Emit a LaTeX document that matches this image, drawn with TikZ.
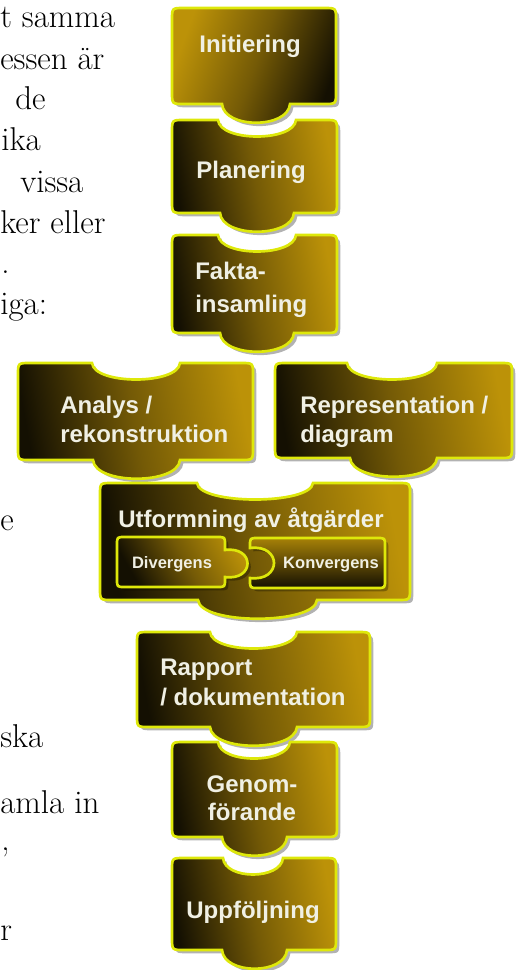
\documentclass[tikz,border=0pt]{standalone}
\usepackage{fontspec}
\newfontfamily\blocksans{Liberation Sans}
\usetikzlibrary{shadows}

% one puzzle piece: style, left, top, right, bottom, notch from/to (top), tab from/to (bottom)
\newcommand{\piece}[9]{%
  \ifnum#6=#7\relax\def\notchpart{}\else
  \def\notchpart{-- (#7,#3) .. controls (#7-2,#3+22) and (#6+2,#3+22) .. (#6,#3)}\fi
  \path[piece,#1] (#2,#3+12) -- (#2,#5-12) .. controls (#2,#5) .. (#2+12,#5)
    -- (#8,#5) .. controls (#8+2,#5+25) and (#9-2,#5+25) .. (#9,#5)
    -- (#4-12,#5) .. controls (#4,#5) .. (#4,#5-12)
    -- (#4,#3+12) .. controls (#4,#3) .. (#4-12,#3) \notchpart
    -- (#2+12,#3) .. controls (#2,#3) .. (#2,#3+12) -- cycle;}

\begin{document}
\begin{tikzpicture}[x=0.75pt, y=-0.75pt,
    piece/.style={draw=pzrim, line width=2pt,
      drop shadow={shadow xshift=2.5pt, shadow yshift=-2.5pt, opacity=0.3, fill=black}},
    darkleft/.style={left color=pzdark, right color=pzgold, middle color=pzolive, shading angle=100},
    goldleft/.style={left color=pzgold, right color=pzdark, middle color=pzolive, shading angle=70},
    blocktext/.style={text=pztext, inner sep=0pt, font=\blocksans\bfseries\fontsize{18}{22}\selectfont},
    smalltext/.style={blocktext, font=\blocksans\bfseries\fontsize{12.4}{15}\selectfont},
    pagetext/.style={anchor=base west, inner sep=0pt, font=\fontsize{24.75}{30}\selectfont}]
        \definecolor{pzgold}{RGB}{188,146,8}
        \definecolor{pzolive}{RGB}{116,90,6}
        \definecolor{pzdark}{RGB}{20,16,2}
        \definecolor{pzrim}{RGB}{222,232,10}
        \definecolor{pztext}{RGB}{240,240,228}

        \useasboundingbox (0,0) rectangle (520,970);
        \clip (0,0) rectangle (520,970);

        % Page text cut off at the left edge
        \node[pagetext] (pg1) at (0,28) {t samma};
        \node[pagetext] (pg2) at (0,70) {essen är};
        \node[pagetext] (pg3) at (15,110) {de};
        \node[pagetext] (pg4) at (1,151) {ika};
        \node[pagetext] (pg5) at (20,192) {vissa};
        \node[pagetext] (pg6) at (0,233) {ker eller};
        \node[pagetext] (pg7) at (1,273) {.};
        \node[pagetext] (pg8) at (0,314) {iga:};
        \node[pagetext] (pg9) at (0,530) {e};
        \node[pagetext] (pg10) at (0,747) {ska};
        \node[pagetext] (pg11) at (0,813) {amla in};
        \node[pagetext] (pg12) at (1,850) {,};
        \node[pagetext] (pg13) at (0,940) {r};

        % Pieces, top to bottom so each tab lies over the next
        \piece{goldleft}{172}{8}{336}{104}{0}{0}{222}{290}
        \piece{darkleft}{172}{120}{337}{213}{218}{296}{220}{294}
        \piece{darkleft}{172}{235}{337}{333}{218}{296}{220}{294}
        \piece{darkleft}{18}{363}{253}{460}{92}{180}{93}{180}
        \piece{darkleft}{275}{363}{512}{458}{347}{437}{350}{437}
        \piece{darkleft}{100}{483}{410}{600}{197}{313}{198}{317}
        \piece{darkleft}{137}{632}{370}{727}{210}{297}{210}{297}
        \piece{darkleft}{172}{742}{337}{837}{218}{290}{222}{287}
        \piece{darkleft}{172}{858}{336}{950}{223}{283}{222}{287}

        % Inner pieces of the design step
        \path[piece, darkleft, shading angle=120]
          (117,545) -- (117,579) .. controls (117,587) .. (125,587) -- (217,587)
          .. controls (225,587) .. (225,579) -- (225,577)
          .. controls (255,581) and (255,546) .. (225,550) -- (225,545)
          .. controls (225,537) .. (217,537) -- (125,537) .. controls (117,537) .. (117,545) -- cycle;
        \path[piece, top color=pzgold!70!pzolive, bottom color=pzdark]
          (258,538) -- (377,538) .. controls (385,538) .. (385,546) -- (385,580)
          .. controls (385,588) .. (377,588) -- (258,588) .. controls (250,588) .. (250,580)
          -- (250,578) .. controls (282,582) and (282,544) .. (250,548) -- (250,546)
          .. controls (250,538) .. (258,538) -- cycle;

        % Labels
        \node[blocktext, anchor=base] (init) at (250,53) {Initiering};
        \node[blocktext, anchor=base] (plan) at (251,178) {Planering};
        \node[blocktext, anchor=base west] (fakta) at (195,279) {Fakta-};
        \node[blocktext, anchor=base west] (fakta-2) at (195,312) {insamling};
        \node[blocktext, anchor=base west] (analys) at (60,413) {Analys /};
        \node[blocktext, anchor=base west] (analys-2) at (60,442) {rekonstruktion};
        \node[blocktext, anchor=base west] (repr) at (300,413) {Representation /};
        \node[blocktext, anchor=base west] (repr-2) at (300,442) {diagram};
        \node[blocktext, anchor=base] (utform) at (251,527) {Utformning av åtgärder};
        \node[smalltext, anchor=base] (diverg) at (172,568) {Divergens};
        \node[smalltext, anchor=base] (konverg) at (331,568) {Konvergens};
        \node[blocktext, anchor=base west] (rapport) at (160,675) {Rapport};
        \node[blocktext, anchor=base west] (rapport-2) at (160,705) {/ dokumentation};
        \node[blocktext, anchor=base] (genom) at (252,792) {Genom-};
        \node[blocktext, anchor=base] (genom-2) at (252,820) {förande};
        \node[blocktext, anchor=base] (uppf) at (253,918) {Uppföljning};
    \end{tikzpicture}
\end{document}
